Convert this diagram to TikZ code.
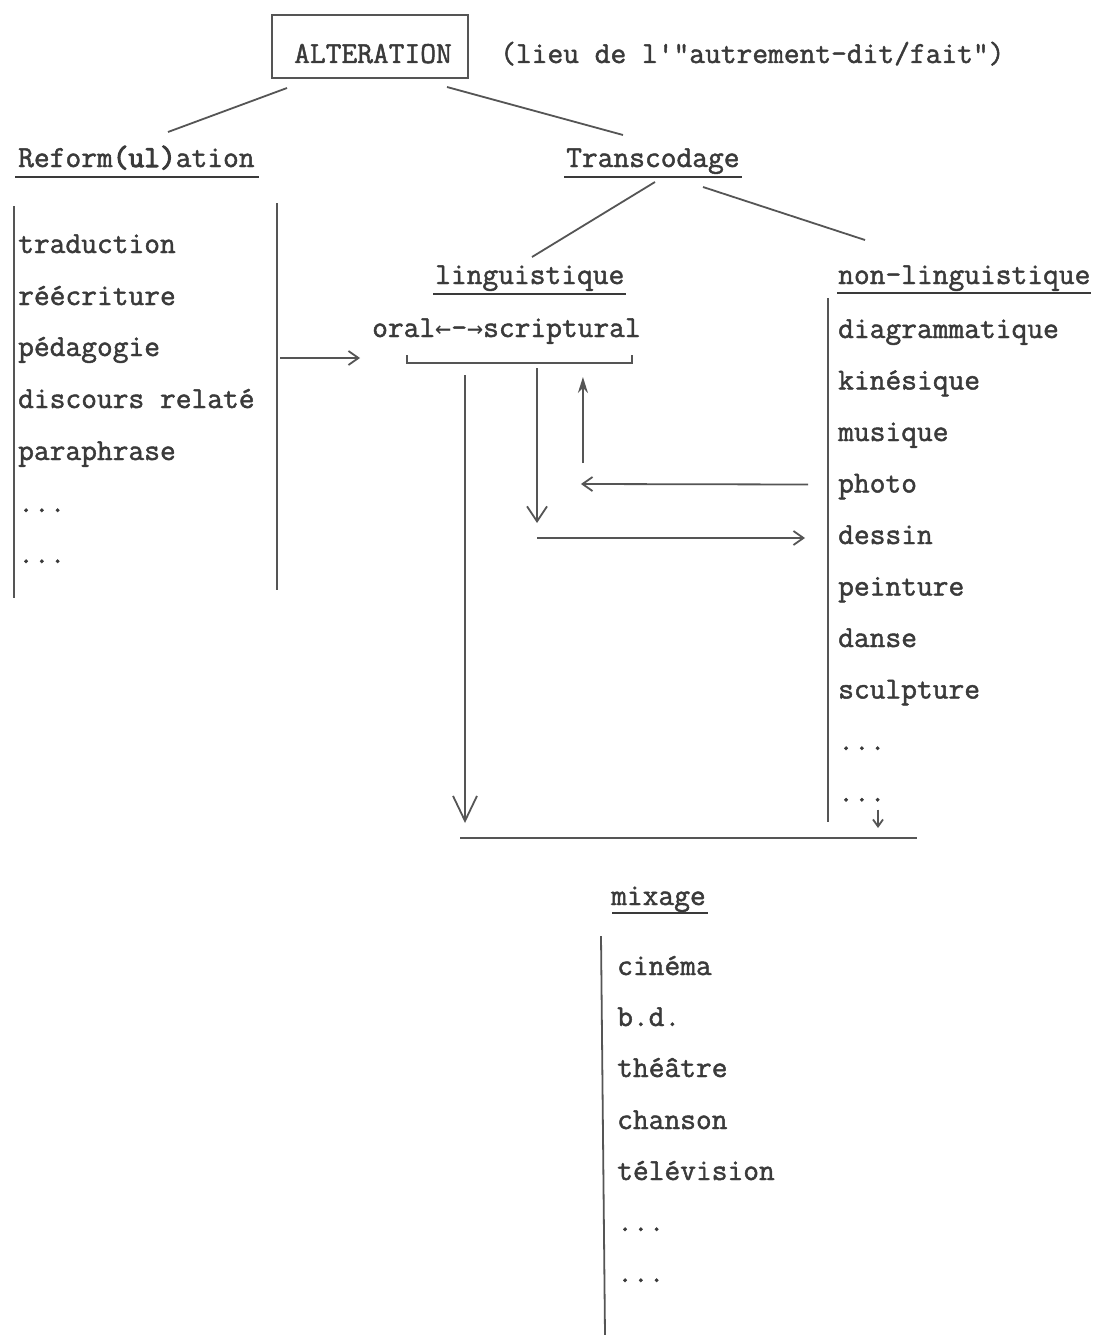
\documentclass[tikz,border=0pt]{standalone}
\usepackage{fontspec}
\setmonofont{Latin Modern Mono}[FakeBold=1.5]
\newfontfamily\heavytt{Latin Modern Mono}[FakeBold=3.5]
\newfontfamily\arrowtt{DejaVu Sans Mono}
\usetikzlibrary{arrows.meta,calc}
\definecolor{ink}{HTML}{3A3A3A}
\definecolor{pen}{HTML}{555555}
\begin{document}
\begin{tikzpicture}[x=1pt,y=-1pt,
  font=\ttfamily\fontsize{30.6}{34}\selectfont,
  txt/.style={anchor=base west, inner sep=0pt, text=ink},
  ln/.style={draw=pen, line width=1.8pt},
  ul/.style={draw=ink, line width=2.5pt},
  vhead/.style={-{Straight Barb[length=25pt,width=24pt]}},
  mhead/.style={-{Straight Barb[length=15pt,width=20pt]}},
  hhead/.style={-{Straight Barb[length=10pt,width=14pt]}},
  shead/.style={-{Straight Barb[length=7pt,width=10pt]}},
  fhead/.style={-{Stealth[length=16pt,width=10pt]}}]
\useasboundingbox[fill=white] (0,0) rectangle (1099,1335);

% top
\node[txt] (alt) at (294,63) {ALTERATION};
\draw[ln] ($(alt.base west)+(-22,-48)$) rectangle ($(alt.base east)+(16,15)$);
\node[txt] (lieu) at (500,63) {(lieu de l'"autrement-dit/fait")};

% level 1
\node[txt] (ref) at (18,167) {Reform{\heavytt(ul)}ation};
\draw[ul] ($(ref.base west)+(-3,10)$) -- ($(ref.base east)+(4,10)$);
\node[txt] (trans) at (566,167) {Transcodage};
\draw[ul] ($(trans.base west)+(-2,10)$) -- ($(trans.base east)+(2,10)$);
\draw[ln] ($(alt.base west)+(-7,25)$) -- ($(ref.base west)+(150,-35)$);
\draw[ln] ($(alt.base east)+(-5,24)$) -- ($(trans.base west)+(57,-32)$);

% left list
\node[txt] (l1) at (18,253) {traduction};
\node[txt] (l2) at (18,305) {réécriture};
\node[txt] (l3) at (18,356) {pédagogie};
\node[txt] (l4) at (18,408) {discours relaté};
\node[txt] (l5) at (18,460) {paraphrase};
\node[txt] (l6) at (18,512) {...};
\node[txt] (l7) at (18,563) {...};
\draw[ln] ($(l1.base west)+(-4,-47)$) -- ($(l7.base west)+(-4,35)$);
\draw[ln] ($(l1.base west)+(259,-50)$) -- ($(l7.base west)+(259,27)$);

% level 2
\node[txt] (ling) at (435,284) {linguistique};
\draw[ul] ($(ling.base west)+(-2,10)$) -- ($(ling.base east)+(1,10)$);
\node[txt] (nonling) at (838,284) {non-linguistique};
\draw[ul] ($(nonling.base west)+(-1,9)$) -- ($(nonling.base east)+(0,9)$);
\draw[ln] ($(trans.base west)+(89,15)$) -- ($(ling.base west)+(97,-27)$);
\draw[ln] ($(trans.base west)+(137,20)$) -- ($(nonling.base west)+(27,-44)$);

\node[txt] (oral) at (372,337) {oral{\arrowtt\fontsize{26.7}{30}\selectfont←}-{\arrowtt\fontsize{26.7}{30}\selectfont→}scriptural};
\draw[ln,hhead] ($(l3.base west)+(262,2)$) -- ($(oral.base west)+(-12,21)$);

% bracket
\coordinate (bkL) at ($(oral.base west)+(35,26)$);
\coordinate (bkR) at ($(oral.base east)+(-9,26)$);
\draw[ln] ($(bkL)+(0,-8)$) -- (bkL) -- (bkR) -- ($(bkR)+(0,-8)$);

% right list
\node[txt] (d1) at (838,338) {diagrammatique};
\node[txt] (d2) at (838,389.5) {kinésique};
\node[txt] (d3) at (838,441) {musique};
\node[txt] (d4) at (838,492.5) {photo};
\node[txt] (d5) at (838,544) {dessin};
\node[txt] (d6) at (838,595.5) {peinture};
\node[txt] (d7) at (838,647) {danse};
\node[txt] (d8) at (838,698.5) {sculpture};
\node[txt] (d9) at (838,750) {...};
\node[txt] (d10) at (838,801.5) {...};

% bottom join line
\coordinate (mL) at (460,838);
\coordinate (mR) at (917,838);
\draw[ln] (mL) -- (mR);
\draw[ln] ($(nonling.base west)+(-10,14)$) -- ($(mR)+(-89,-16)$);

% arrows in the middle
\draw[ln,vhead] ($(bkL)+(58,12)$) -- ($(mL)+(5,-15)$);
\coordinate (mid) at ($(bkL)+(130,5)$);
\draw[ln,mhead] (mid) -- ($(mid)+(0,155)$);
\draw[ln,hhead] ($(mid)+(0,170)$) -- ($(d5.base west)+(-33,-6)$);
\draw[ln,hhead] ($(d4.base west)+(-30,-8)$) -- ($(bkR)+(-51,121)$);
\draw[ln,fhead] ($(bkR)+(-49,100)$) -- ($(bkR)+(-49,14)$);
\draw[ln,shead] ($(d10.base west)+(40,8)$) -- ($(mR)+(-39,-10)$);

% mixage
\node[txt] (mix) at (611,905) {mixage};
\draw[ul] ($(mix.base west)+(1,8)$) -- ($(mix.base east)+(2,8)$);
\node[txt] (m1) at (617,975) {cinéma};
\node[txt] (m2) at (617,1026) {b.d.};
\node[txt] (m3) at (617,1077) {théâtre};
\node[txt] (m4) at (617,1129) {chanson};
\node[txt] (m5) at (617,1180) {télévision};
\node[txt] (m6) at (617,1231) {...};
\node[txt] (m7) at (617,1282) {...};
\draw[ln] ($(mix.base west)+(-10,31)$) -- ($(m7.base west)+(-12,53)$);
\end{tikzpicture}
\end{document}
